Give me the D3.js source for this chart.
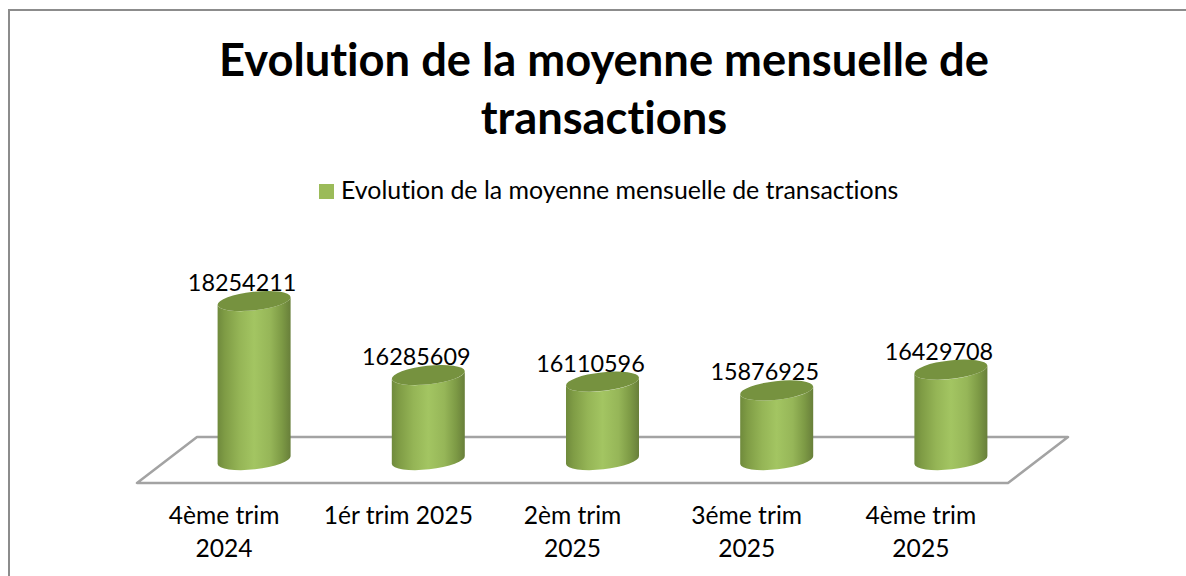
<!DOCTYPE html>
<html><head><meta charset="utf-8">
<script src="https://cdnjs.cloudflare.com/ajax/libs/d3/7.8.5/d3.min.js"></script>
<style>html,body{margin:0;padding:0;background:#fff;overflow:hidden}svg{display:block}text{font-family:Lato,"Open Sans",sans-serif;fill:#000;font-variant-ligatures:none;font-feature-settings:"liga" 0,"clig" 0}</style>
</head><body><svg id="c" width="1186" height="576"></svg>
<script>
const titleLines = ["Evolution de la moyenne mensuelle de","transactions"];
const seriesName = "Evolution de la moyenne mensuelle de transactions";
const categories = ["4ème trim 2024","1ér trim 2025","2èm trim 2025","3éme trim 2025","4ème trim 2025"];
const categoryLines = [["4ème trim","2024"],["1ér trim 2025"],["2èm trim","2025"],["3éme trim","2025"],["4ème trim","2025"]];
const values = [18254211,16285609,16110596,15876925,16429708];

const svg = d3.select("#c");
const x = d3.scaleBand().domain(categories).range([137,1008]);
const y = d3.scaleLinear().domain([14000000,18254211]).range([461,301]);
const depth = 30, floorFront=483, floorBack=437;

const defs = svg.append("defs");
const g = defs.append("linearGradient").attr("id","cyl");
[[0,"#6f8a3c"],[0.1,"#7f9c45"],[0.3,"#95b556"],[0.5,"#a3c562"],[0.72,"#96b658"],[0.88,"#7d9a45"],[1,"#687f3a"]].forEach(s=>g.append("stop").attr("offset",s[0]).attr("stop-color",s[1]));

svg.append("path").attr("d","M9,576L9,10L1186,10").attr("fill","none").attr("stroke","#8c8c8c").attr("stroke-width",2);

svg.append("g").selectAll("text").data(titleLines).join("text")
  .attr("x",604).attr("y",(d,i)=>[76,134][i]).attr("text-anchor","middle")
  .attr("font-size",45.3).attr("font-weight",700).text(d=>d);

svg.append("rect").attr("x",319).attr("y",184).attr("width",15).attr("height",15).attr("fill","#9bbb59");
svg.append("text").attr("x",341).attr("y",199).attr("font-size",24.9).text(seriesName);

const [x0,x1]=x.range();
svg.append("path").attr("d",`M${x0},${floorFront}L${x1},${floorFront}L${x1+60},${floorBack}L${x0+60},${floorBack}Z`)
  .attr("fill","none").attr("stroke","#a3a3a3").attr("stroke-width",2.5).attr("stroke-linejoin","round");

const rx=36.5, d=4, ry=9.3, rot=-6.3;
const cx = c=>x(c)+x.bandwidth()/2;
const baseY=y(14000000)-1;
const rows = categories.map((c,i)=>({c,v:values[i],l:categoryLines[i]}));
const cyl = svg.append("g").selectAll("g").data(rows).join("g")
  .attr("transform",o=>`translate(${cx(o.c)+depth},0)`);
cyl.append("path").attr("fill","url(#cyl)").attr("d",o=>{
  const t=y(o.v),b=baseY;
  return `M${-rx},${t+d}L${-rx},${b+d}A${rx},${ry} ${rot} 0 0 ${rx},${b-d}L${rx},${t-d}A${rx},${ry} ${rot} 0 1 ${-rx},${t+d}Z`;
});
cyl.append("ellipse").attr("rx",rx+0.2).attr("ry",ry).attr("fill","#76923f")
  .attr("transform",o=>`translate(0,${y(o.v)}) rotate(${rot})`);

svg.append("g").selectAll("text").data(rows).join("text")
  .attr("x",o=>cx(o.c)+depth-12).attr("y",o=>y(o.v)-10).attr("text-anchor","middle").attr("font-size",23.4)
  .text(o=>o.v);

const lab = svg.append("g").selectAll("text").data(rows).join("text")
  .attr("text-anchor","middle").attr("font-size",24.6);
lab.selectAll("tspan").data(o=>o.l.map(t=>({t,c:o.c}))).join("tspan")
  .attr("x",o=>cx(o.c)).attr("y",(o,i)=>524+i*33).text(o=>o.t);
</script></body></html>
